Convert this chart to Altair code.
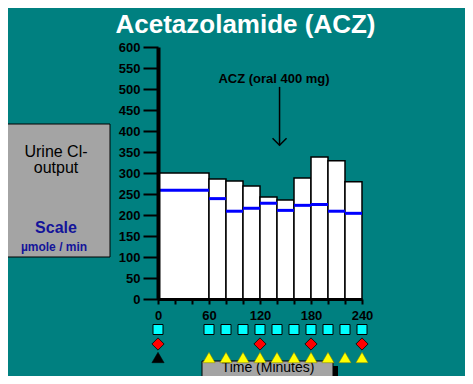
import altair as alt
import pandas as pd

# ---- data ----
bar_start = [0, 60, 80, 100, 120, 140, 160, 180, 200, 220]
bar_end = [60, 80, 100, 120, 140, 160, 180, 200, 220, 240]
bar_total = [300, 286, 281, 269, 243, 236, 288, 338, 329, 279]
bar_mean = [259, 239, 209, 216, 228, 211, 223, 225, 209, 204]

square_times = [0, 60, 80, 100, 120, 140, 160, 180, 200, 220, 240]
diamond_times = [0, 120, 180, 240]
black_tri_times = [0]
yellow_tri_times = [60, 80, 100, 120, 140, 160, 180, 200, 220, 240]

y_ticks = [0, 50, 100, 150, 200, 250, 300, 350, 400, 450, 500, 550, 600]
x_ticks = [0, 20, 40, 60, 80, 100, 120, 140, 160, 180, 200, 220, 240]

acz_label = "ACZ (oral 400 mg)"
acz_time = 143
acz_from = 505
acz_to = 366

title_text = "Acetazolamide (ACZ)"
box_lines = ["Urine Cl-", "output"]
scale_text = "Scale"
unit_text = "µmole / min"
time_text = "Time (Minutes)"

FONT = "Liberation Sans, Arial, Helvetica, sans-serif"
TEAL = "#008080"
GRAY = "#a4a4a4"
DKBLUE = "#14149a"

df_bars = pd.DataFrame({"start": bar_start, "end": bar_end,
                        "total": bar_total, "mean": bar_mean})

xs = alt.Scale(domain=[0, 240], nice=False, zero=False)
ys = alt.Scale(domain=[0, 600], nice=False, zero=False)

xaxis = alt.Axis(values=x_ticks, labelExpr="datum.value % 60 == 0 ? datum.label : ''",
                 title=None, grid=False, domainColor="black", domainWidth=3,
                 tickColor="black", tickWidth=2, tickSize=5, labelFont=FONT,
                 labelFontSize=13, labelFontWeight="bold", labelColor="black",
                 labelPadding=5, labelFlush=False, labelOverlap=False, zindex=2)
yaxis = alt.Axis(values=y_ticks, title=None, grid=False, domainColor="black",
                 domainWidth=4, tickColor="black", tickWidth=2, tickSize=15,
                 labelPadding=3, labelFont=FONT, labelFontSize=13,
                 labelFontWeight="bold", labelColor="black", labelFlush=False,
                 labelOverlap=False, zindex=2)


def X(f):
    return alt.X(f, type="quantitative", scale=xs, axis=xaxis)


def Y(f):
    return alt.Y(f, type="quantitative", scale=ys, axis=yaxis)


one = pd.DataFrame({"a": [0]})

bars = alt.Chart(df_bars).mark_bar(fill="white", stroke="black", strokeWidth=1.5).encode(
    x=X("start"), x2="end", y=Y("total"), y2=alt.datum(0))

means = alt.Chart(df_bars).mark_rule(color="#0000ff", strokeWidth=3).encode(
    x=X("start"), x2="end", y=Y("mean"))

squares = alt.Chart(pd.DataFrame({"t": square_times})).mark_point(
    shape="square", size=100, filled=True, fill="#00ffff", stroke="black",
    strokeWidth=1, opacity=1).encode(x=X("t"), y=alt.value(282.5))

diamonds = alt.Chart(pd.DataFrame({"t": diamond_times})).mark_point(
    shape="diamond", size=150, filled=True, fill="#ff0000", stroke="black",
    strokeWidth=0.8, opacity=1).encode(x=X("t"), y=alt.value(297))

TRI = "M-1,0.85L0,-0.85L1,0.85Z"
btri = alt.Chart(pd.DataFrame({"t": black_tri_times})).mark_point(
    shape=TRI, size=150, filled=True, fill="black", stroke="black",
    strokeWidth=0.5, opacity=1).encode(x=X("t"), y=alt.value(310.5))
ytri = alt.Chart(pd.DataFrame({"t": yellow_tri_times})).mark_point(
    shape=TRI, size=150, filled=True, fill="#ffff00", stroke="#808000",
    strokeWidth=0.5, opacity=1).encode(x=X("t"), y=alt.value(310.5))

# arrow annotation
df_arrow = pd.DataFrame({"t": [acz_time], "y1": [acz_from], "y2": [acz_to], "label": [acz_label]})
shaft = alt.Chart(df_arrow).mark_rule(color="black", strokeWidth=1.5).encode(
    x=X("t"), y=Y("y1"), y2="y2")
head = alt.Chart(df_arrow).mark_point(shape="M-1,-1L0,0L1,-1", size=196, filled=False,
                                      stroke="black", strokeWidth=1.5, opacity=1).encode(
    x=X("t"), y=Y("y2"))
acz_txt = alt.Chart(df_arrow).mark_text(font=FONT, fontSize=13, fontWeight="bold",
                                        color="black", baseline="alphabetic", align="center").encode(
    x=alt.value(116), y=alt.value(36), text="label:N")

# title
title = alt.Chart(pd.DataFrame({"s": [title_text]})).mark_text(
    font=FONT, fontSize=26, fontWeight="bold", color="white",
    baseline="alphabetic", align="center").encode(
    x=alt.value(87.5), y=alt.value(-14), text="s:N")

# left gray box
lbox = alt.Chart(one).mark_rect(fill=GRAY, stroke="black", strokeWidth=1).encode(
    x=alt.value(-156), x2=alt.value(-48), y=alt.value(77), y2=alt.value(210))
l1 = alt.Chart(pd.DataFrame({"s": [box_lines[0]]})).mark_text(
    font=FONT, fontSize=16, color="black", baseline="alphabetic", align="center").encode(
    x=alt.value(-102), y=alt.value(109.5), text="s:N")
l2 = alt.Chart(pd.DataFrame({"s": [box_lines[1]]})).mark_text(
    font=FONT, fontSize=16, color="black", baseline="alphabetic", align="center").encode(
    x=alt.value(-102), y=alt.value(125.5), text="s:N")
l3 = alt.Chart(pd.DataFrame({"s": [scale_text]})).mark_text(
    font=FONT, fontSize=16, fontWeight="bold", color=DKBLUE, baseline="alphabetic",
    align="center").encode(x=alt.value(-102), y=alt.value(186), text="s:N")
l4 = alt.Chart(pd.DataFrame({"s": [unit_text]})).mark_text(
    font=FONT, fontSize=12, fontWeight="bold", color=DKBLUE, baseline="alphabetic",
    align="center").encode(x=alt.value(-104), y=alt.value(203.5), text="s:N")

# bottom time box with shadow
shadow = alt.Chart(one).mark_rect(fill="black").encode(
    x=alt.value(49), x2=alt.value(180), y=alt.value(319), y2=alt.value(340))
tbox = alt.Chart(one).mark_rect(fill=GRAY, stroke="black", strokeWidth=1).encode(
    x=alt.value(44), x2=alt.value(175), y=alt.value(314), y2=alt.value(333))
ttxt = alt.Chart(pd.DataFrame({"s": [time_text]})).mark_text(
    font=FONT, fontSize=14, color="black", baseline="alphabetic", align="center").encode(
    x=alt.value(110), y=alt.value(325), text="s:N")

chart = alt.layer(
    bars, means, shadow, tbox, ttxt, squares, diamonds, btri, ytri, shaft, head,
    acz_txt, title, lbox, l1, l2, l3, l4
).properties(
    width=204, height=252, autosize="none",
    padding={"left": 150, "top": 39, "right": 103, "bottom": 77},
    background=TEAL
).configure_view(stroke=None)

chart.save("out.html", embed_options={"renderer": "svg", "actions": False})
